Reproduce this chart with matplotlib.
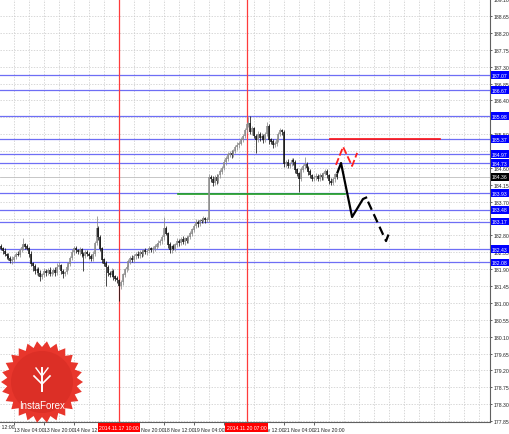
import matplotlib
matplotlib.use('Agg')
import matplotlib.pyplot as plt
import matplotlib.transforms as mtransforms
from matplotlib.patches import Polygon
import numpy as np

# hourly closes, bar 0 .. 179
closes = [
    182.45, 182.38, 182.30, 182.25, 182.20, 182.12, 182.15, 182.22, 182.30, 182.28,
    182.40, 182.48, 182.55, 182.50, 182.45, 182.30, 182.05, 181.98, 181.85, 181.90,
    181.80, 181.70, 181.75, 181.85, 181.80, 181.88, 181.78, 181.82, 181.88, 181.80,
    181.95, 182.00, 181.85, 181.78, 181.82, 181.95, 182.05, 182.20, 182.35, 182.45,
    182.40, 182.35, 182.42, 182.30, 182.25, 182.35, 182.30, 182.25, 182.18, 182.30,
    182.60, 183.00, 182.75, 182.45, 182.15, 182.05, 181.95, 181.80, 181.75, 181.85,
    181.70, 181.65, 181.60, 181.45, 181.55, 181.75, 181.90, 181.95, 182.10, 182.20,
    182.15, 182.25, 182.30, 182.25, 182.35, 182.30, 182.40, 182.35, 182.38, 182.45,
    182.40, 182.45, 182.50, 182.55, 182.60, 182.65, 182.75, 183.00, 182.85, 182.55,
    182.40, 182.50, 182.45, 182.55, 182.65, 182.60, 182.70, 182.62, 182.72, 182.65,
    182.75, 182.85, 182.95, 183.05, 183.15, 183.10, 183.20, 183.18, 183.25, 183.20,
    183.22, 184.35, 184.30, 184.20, 184.35, 184.25, 184.40, 184.50, 184.60, 184.75,
    184.85, 184.95, 185.00, 184.95, 185.05, 185.15, 185.20, 185.25, 185.35, 185.45,
    185.60, 185.75, 185.80, 185.55, 185.65, 185.45, 185.35, 185.50, 185.40, 185.45,
    185.35, 185.50, 185.70, 185.35, 185.30, 185.20, 185.25, 185.35, 185.50, 185.60,
    185.55, 184.70, 184.75, 184.65, 184.72, 184.80, 184.75, 184.55, 184.45, 184.30,
    184.55, 184.65, 184.70, 184.60, 184.50, 184.40, 184.30, 184.35, 184.38, 184.30,
    184.40, 184.35, 184.45, 184.50, 184.40, 184.25, 184.20, 184.30, 184.42, 184.36,
]
first_open = 182.50

up_wick = [
    0.06, 0.05, 0.08, 0.04, 0.07, 0.05, 0.09, 0.06, 0.05, 0.08,
    0.07, 0.06, 0.18, 0.05, 0.06, 0.04, 0.08, 0.05, 0.07, 0.06,
    0.05, 0.08, 0.06, 0.07, 0.05, 0.04, 0.09, 0.06, 0.05, 0.07,
    0.12, 0.08, 0.05, 0.06, 0.04, 0.07, 0.05, 0.06, 0.08, 0.07,
    0.06, 0.05, 0.07, 0.04, 0.06, 0.05, 0.07, 0.06, 0.05, 0.08,
    0.06, 0.32, 0.05, 0.06, 0.04, 0.05, 0.07, 0.06, 0.05, 0.08,
    0.06, 0.05, 0.07, 0.05, 0.06, 0.05, 0.04, 0.07, 0.06, 0.05,
    0.07, 0.05, 0.06, 0.08, 0.05, 0.06, 0.04, 0.07, 0.05, 0.06,
    0.05, 0.07, 0.06, 0.05, 0.08, 0.06, 0.05, 0.29, 0.06, 0.05,
    0.07, 0.05, 0.06, 0.04, 0.07, 0.05, 0.06, 0.08, 0.05, 0.06,
    0.05, 0.07, 0.06, 0.05, 0.08, 0.06, 0.05, 0.07, 0.06, 0.05,
    0.06, 0.10, 0.07, 0.08, 0.06, 0.09, 0.05, 0.07, 0.06, 0.08,
    0.06, 0.07, 0.05, 0.09, 0.06, 0.05, 0.08, 0.06, 0.07, 0.05,
    0.06, 0.08, 0.15, 0.18, 0.07, 0.05, 0.06, 0.08, 0.06, 0.07,
    0.05, 0.06, 0.13, 0.07, 0.05, 0.06, 0.08, 0.05, 0.06, 0.07,
    0.05, 0.06, 0.07, 0.08, 0.05, 0.06, 0.07, 0.05, 0.06, 0.05,
    0.07, 0.06, 0.19, 0.05, 0.06, 0.07, 0.05, 0.06, 0.08, 0.05,
    0.06, 0.07, 0.05, 0.07, 0.06, 0.05, 0.07, 0.06, 0.05, 0.04,
]
dn_wick = [
    0.05, 0.07, 0.06, 0.08, 0.05, 0.06, 0.07, 0.05, 0.06, 0.04,
    0.06, 0.05, 0.07, 0.06, 0.05, 0.08, 0.07, 0.12, 0.08, 0.10,
    0.09, 0.12, 0.07, 0.06, 0.08, 0.05, 0.07, 0.06, 0.05, 0.08,
    0.06, 0.05, 0.08, 0.12, 0.06, 0.05, 0.07, 0.06, 0.05, 0.06,
    0.07, 0.05, 0.06, 0.08, 0.40, 0.06, 0.05, 0.07, 0.06, 0.05,
    0.06, 0.05, 0.07, 0.06, 0.08, 0.07, 0.50, 0.08, 0.06, 0.07,
    0.08, 0.06, 0.07, 0.40, 0.08, 0.06, 0.05, 0.07, 0.06, 0.05,
    0.06, 0.05, 0.07, 0.06, 0.05, 0.07, 0.06, 0.05, 0.08, 0.06,
    0.05, 0.06, 0.07, 0.05, 0.06, 0.05, 0.07, 0.06, 0.05, 0.08,
    0.07, 0.06, 0.05, 0.07, 0.06, 0.08, 0.05, 0.06, 0.07, 0.05,
    0.06, 0.05, 0.07, 0.06, 0.05, 0.07, 0.06, 0.05, 0.06, 0.07,
    0.05, 0.06, 0.08, 0.07, 0.06, 0.09, 0.05, 0.06, 0.07, 0.05,
    0.06, 0.07, 0.05, 0.08, 0.06, 0.05, 0.07, 0.06, 0.05, 0.06,
    0.05, 0.06, 0.07, 0.05, 0.08, 0.06, 0.35, 0.07, 0.09, 0.06,
    0.08, 0.06, 0.05, 0.10, 0.07, 0.06, 0.05, 0.07, 0.06, 0.05,
    0.06, 0.08, 0.07, 0.06, 0.05, 0.07, 0.06, 0.08, 0.07, 0.35,
    0.06, 0.05, 0.07, 0.06, 0.08, 0.07, 0.06, 0.05, 0.07, 0.06,
    0.05, 0.07, 0.06, 0.05, 0.07, 0.08, 0.06, 0.05, 0.07, 0.06,
]

price_ticks = [189.10, 188.65, 188.20, 187.75, 187.30, 186.85, 186.40, 185.95,
               185.50, 185.05, 184.60, 184.15, 183.70, 183.25, 182.80, 182.35,
               181.90, 181.45, 181.00, 180.55, 180.10, 179.65, 179.20, 178.75,
               178.30, 177.85]
time_labels = ['12 Nov 12:00', '13 Nov 04:00', '13 Nov 20:00', '14 Nov 12:00',
               '17 Nov 04:00', '17 Nov 20:00', '18 Nov 12:00', '19 Nov 04:00',
               '19 Nov 20:00', '20 Nov 12:00', '21 Nov 04:00', '21 Nov 20:00']
time_label_bars = [-9, 7, 23, 39, 55, 71, 87, 103, 119, 135, 151, 167]

blue_levels = [187.07, 186.67, 185.98, 185.37, 184.97, 184.73, 183.93,
               183.48, 183.17, 182.43, 182.08]
bid_price = 184.36
red_level = 185.37
red_level_bars = [175.5, 234]
green_level = 183.90
green_level_bars = [94.5, 183.5]

vline_bars = [63, 131]
vline_labels = ['2014.11.17 10:00', '2014.11.20 07:00']

# hand drawn forecast paths (bar, price)
black_solid_bars = [179.3, 181.4, 187.3, 193.1, 195.3]
black_solid_prices = [184.45, 184.73, 183.29, 183.77, 183.82]
black_dash_bars = [195.8, 205.4, 207.6]
black_dash_prices = [183.70, 182.65, 182.94]
red_dash_bars = [178.7, 182.5, 187.3, 190.0]
red_dash_prices = [184.68, 185.16, 184.65, 185.00]

plt.rcParams['font.family'] = ['Liberation Sans', 'DejaVu Sans']

W, H = 510, 435
fig = plt.figure(figsize=(W / 100, H / 100), dpi=100)
fig.patch.set_facecolor('white')
ax = fig.add_axes([0, 12 / H, 490 / W, 423 / H])

px_per_bar = 1.875
x0 = 0.9

# grid
for k in range(-1, 262, 8):
    ax.axvline(k, color='#c8c8c8', lw=0.5, ls=(0, (2, 2)), zorder=0)
for p in price_ticks:
    ax.axhline(p, color='#c8c8c8', lw=0.5, ls=(0, (2, 2)), zorder=0)

# levels
for p in blue_levels:
    ax.axhline(p, color='#6e6ef5', lw=0.9, zorder=1)
ax.axhline(bid_price, color='#bdbdbd', lw=0.6, zorder=1)
for k in vline_bars:
    ax.axvline(k, color='#ff3b3b', lw=0.9, zorder=1)
ax.plot(green_level_bars, [green_level, green_level], color='#1fa01f', lw=1.2, zorder=2)
ax.plot(red_level_bars, [red_level, red_level], color='#ff1010', lw=1.2, zorder=2)

# candles
opens = [first_open] + closes[:-1]
bars = np.arange(len(closes))
for k in bars:
    o, c = opens[k], closes[k]
    hi = max(o, c) + up_wick[k]
    lo = min(o, c) - dn_wick[k]
    col = '#8a8a8a' if c >= o else '#141414'
    ax.vlines(k, lo, hi, color=col, lw=0.55, zorder=3)
    ax.vlines(k, min(o, c), max(o, c) + 0.01, color=col, lw=1.1, zorder=3)

# forecast
ax.plot(black_solid_bars, black_solid_prices, color='black', lw=1.6, zorder=4,
        solid_capstyle='butt')
ax.plot(black_dash_bars, black_dash_prices, color='black', lw=1.6, zorder=4,
        ls=(0, (4, 2.2)))
ax.plot(red_dash_bars, red_dash_prices, color='#ff2020', lw=1.3, zorder=4,
        ls=(0, (4, 1.5)))

# axes styling
for s in ['left', 'top']:
    ax.spines[s].set_visible(False)
for s in ['right', 'bottom']:
    ax.spines[s].set_color('#606060')
    ax.spines[s].set_linewidth(0.8)

ax.yaxis.tick_right()
ax.set_yticks(price_ticks)
ax.set_yticklabels(['%.2f' % p for p in price_ticks], fontsize=3.7, color='#222222')
ax.tick_params(axis='y', length=1.5, width=0.5, pad=0.8, colors='#222222')

ax.set_xticks(time_label_bars[1:])
ax.set_xticklabels(time_labels[1:], fontsize=3.7, color='#222222', ha='left')
ax.tick_params(axis='x', length=2, width=0.5, pad=1.5, colors='#222222')

# limits after ticks (set_ticks would widen the view)
ax.set_xlim(-x0 / px_per_bar, (490 - x0) / px_per_bar)
ax.set_ylim(177.825, 189.103)

trx = mtransforms.blended_transform_factory(ax.transData, ax.transAxes)
# first label starts left of the chart, only its tail shows
ax.text(time_label_bars[0], -0.0045, time_labels[0], transform=trx, fontsize=3.7,
        color='#222222', ha='left', va='top', clip_on=False)

tr = mtransforms.blended_transform_factory(ax.transAxes, ax.transData)
for p in blue_levels:
    ax.text(1.004, p, '%.2f' % p, transform=tr, fontsize=3.7, color='white',
            va='center', ha='left', zorder=10, clip_on=False,
            bbox=dict(boxstyle='square,pad=0.25', fc='#0000ff', ec='none'))
ax.text(1.004, bid_price, '%.2f' % bid_price, transform=tr, fontsize=3.7,
        color='white', va='center', ha='left', zorder=10, clip_on=False,
        bbox=dict(boxstyle='square,pad=0.25', fc='black', ec='none'))

for k, lab in zip(vline_bars, vline_labels):
    ax.text(k, -0.013, lab, transform=trx, fontsize=3.7, color='white',
            va='center', ha='center', zorder=10, clip_on=False,
            bbox=dict(boxstyle='square,pad=0.3', fc='#ff0000', ec='none'))

# logo seal
lg = fig.add_axes([0, 0, 1, 1], zorder=5)
lg.set_xlim(0, W)
lg.set_ylim(H, 0)
lg.axis('off')
lg.patch.set_alpha(0)
n_teeth = 26
ang = np.linspace(0, 2 * np.pi, 2 * n_teeth, endpoint=False)
rad = np.where(np.arange(2 * n_teeth) % 2 == 0, 41, 35)
cx, cy = 42, 383
star = np.column_stack([cx + rad * np.cos(ang), cy + rad * np.sin(ang)])
lg.add_patch(Polygon(star, closed=True, fc='#e8362c', ec='none'))
lg.add_patch(plt.Circle((cx, cy), 31, fc='#dc2f26', ec='none'))
lg.text(cx, 406, 'InstaForex', color='white', fontsize=7, ha='center', va='center')
# small white emblem
lg.plot([cx, cx], [369, 392], color='white', lw=1.4)
lg.plot([cx - 8, cx, cx + 8], [377, 385, 377], color='white', lw=1.2)
lg.plot([cx - 6, cx, cx + 6], [369, 377, 369], color='white', lw=1.0)

fig.savefig('out.png', dpi=100, facecolor='white')
